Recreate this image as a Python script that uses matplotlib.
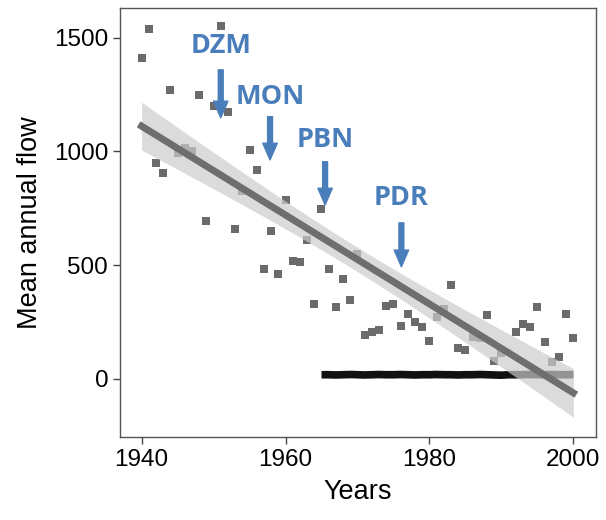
import matplotlib.pyplot as plt
import numpy as np

# scatter: mean annual flow per year
years = np.array([1940, 1941, 1942, 1943, 1944, 1945, 1946, 1947, 1948, 1949,
                  1950, 1951, 1952, 1953, 1954, 1955, 1956, 1957, 1958, 1959,
                  1960, 1961, 1962, 1963, 1964, 1965, 1966, 1967, 1968, 1969,
                  1970, 1971, 1972, 1973, 1974, 1975, 1976, 1977, 1978, 1979,
                  1980, 1981, 1982, 1983, 1984, 1985, 1986, 1987, 1988, 1989,
                  1990, 1992, 1993, 1994, 1995, 1996, 1997, 1998, 1999, 2000])
flow = np.array([1412, 1538, 949, 905, 1270, 994, 1015, 1004, 1248, 694,
                 1198, 1550, 1172, 661, 828, 1007, 919, 482, 649, 462,
                 788, 518, 512, 612, 329, 749, 485, 314, 441, 346,
                 550, 194, 205, 214, 321, 327, 233, 287, 249, 229,
                 167, 271, 306, 412, 135, 126, 183, 180, 280, 79,
                 113, 204, 242, 227, 315, 163, 75, 98, 286, 180])

# black series near zero
base_years = np.arange(1965, 2001)
base_flow = [18, 18, 17, 18, 19, 18, 17, 18, 19, 18,
             18, 19, 18, 17, 18, 18, 19, 18, 18, 17,
             18, 18, 19, 18, 17, 16, 18, 18, 18, 19,
             18, 18, 19, 18, 18, 19]

# annotations: label, x, text y, arrow start y, arrow end y
labels = ["DZM", "MON", "PBN", "PDR"]
label_x = [1951.0, 1957.85, 1965.5, 1976.1]
label_y = [1465, 1241, 1051, 796]
arrow_top = [1359, 1153, 955, 686]
arrow_bot = [1148, 963, 765, 493]

plt.rcParams['font.family'] = ['Liberation Sans', 'DejaVu Sans']

fig = plt.figure(figsize=(6.06, 5.2), dpi=100)
ax = fig.add_axes([0.198, 0.160, 0.785, 0.825])

ax.scatter(years, flow, marker='s', s=30, color='#6b6b6b', linewidths=0, zorder=2)
ax.plot(base_years, base_flow, color='#111111', lw=5.5, zorder=3, solid_capstyle='butt')

# linear fit with 95% confidence band
n = len(years)
m, b = np.polyfit(years, flow, 1)
xs = np.linspace(years.min(), years.max(), 200)
ys = m * xs + b
resid = flow - (m * years + b)
s = np.sqrt(np.sum(resid ** 2) / (n - 2))
xm = years.mean()
se = s * np.sqrt(1 / n + (xs - xm) ** 2 / np.sum((years - xm) ** 2))
t = 2.0
ax.fill_between(xs, ys - t * se, ys + t * se, color='#cccccc', alpha=0.7, lw=0, zorder=4)
ax.plot(xs, ys, color='#6e6e6e', lw=5, zorder=5)

for lab, x, ty, a0, a1 in zip(labels, label_x, label_y, arrow_top, arrow_bot):
    ax.text(x, ty, lab, color='#4a7ebb', fontsize=19.5, fontweight='bold',
            family=['Open Sans', 'DejaVu Sans'], ha='center', va='center', zorder=6)
    ax.annotate('', xy=(x, a1), xytext=(x, a0),
                arrowprops=dict(arrowstyle='simple,head_length=0.75,head_width=0.65,tail_width=0.22',
                                color='#4a7ebb', mutation_scale=16, shrinkA=0, shrinkB=0), zorder=6)

ax.set_xlim(1937, 2003.1)
ax.set_ylim(-255, 1632)
ax.set_xticks([1940, 1960, 1980, 2000])
ax.set_yticks([0, 500, 1000, 1500])
ax.tick_params(labelsize=17.5, length=5, width=1, color='#444444', labelcolor='black')
for sp in ax.spines.values():
    sp.set_color('#555555')
    sp.set_linewidth(1)
ax.set_xlabel('Years', fontsize=19.5, labelpad=6)
ax.set_ylabel('Mean annual flow', fontsize=19.5, labelpad=8)

fig.savefig('out.png', dpi=100)
